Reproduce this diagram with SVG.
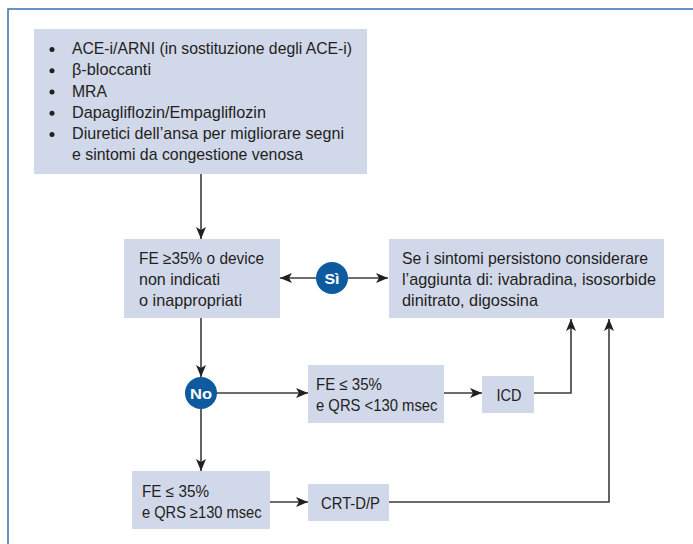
<svg xmlns="http://www.w3.org/2000/svg" width="693" height="544" viewBox="0 0 693 544">
<style>
.box{fill:#d1d8ea}
.t{font-family:"Liberation Sans",Arial,sans-serif;font-size:16.2px;fill:#231f20}
.c{fill:#0d5a9e}
.ct{font-family:"Liberation Sans",Arial,sans-serif;font-size:15px;font-weight:bold;fill:#ffffff;text-anchor:middle}
.ln{fill:none;stroke:#3c3c3c;stroke-width:1.6}
.arr{marker-end:url(#ah)}
</style>
<defs>
<marker id="ah" viewBox="0 0 12 10" refX="12" refY="5" markerWidth="12" markerHeight="10" markerUnits="userSpaceOnUse" orient="auto">
<path d="M0,0 L12,5 L0,10 L3,5 Z" fill="#231f20"/>
</marker>
</defs>
<rect width="693" height="544" fill="#ffffff"/>
<g id="frame">
<path d="M8,544 L8,9 L693,9" fill="none" stroke="#3670b0" stroke-width="1.5"/>
</g>
<g id="connectors">
<path class="ln arr" d="M201,174 L201,239"/>
<path class="ln arr" d="M316,278 L280,278"/>
<path class="ln arr" d="M348,278 L388,278"/>
<path class="ln arr" d="M201,318 L201,377"/>
<path class="ln arr" d="M217,393 L308,393"/>
<path class="ln arr" d="M201,409 L201,471"/>
<path class="ln arr" d="M444,393 L482,393"/>
<path class="ln arr" d="M534,393 L571,393 L571,319"/>
<path class="ln arr" d="M270,502 L308,502"/>
<path class="ln arr" d="M389,502 L609,502 L609,319"/>
</g>
<g id="therapy">
<rect class="box" x="34" y="29" width="333" height="145"/>
<g fill="#231f20">
<circle cx="52" cy="49.5" r="2.5"/>
<circle cx="52" cy="70.8" r="2.5"/>
<circle cx="52" cy="92" r="2.5"/>
<circle cx="52" cy="113.3" r="2.5"/>
<circle cx="52" cy="134.5" r="2.5"/>
</g>
<text class="t" x="72" y="54" textLength="280" lengthAdjust="spacingAndGlyphs">ACE-i/ARNI (in sostituzione degli ACE-i)</text>
<text class="t" x="72" y="75.3" textLength="79" lengthAdjust="spacingAndGlyphs">β-bloccanti</text>
<text class="t" x="72" y="96.6" textLength="35" lengthAdjust="spacingAndGlyphs">MRA</text>
<text class="t" x="72" y="118" textLength="194" lengthAdjust="spacingAndGlyphs">Dapagliflozin/Empagliflozin</text>
<text class="t" x="72" y="139" textLength="272" lengthAdjust="spacingAndGlyphs">Diuretici dell’ansa per migliorare segni</text>
<text class="t" x="72" y="160" textLength="231" lengthAdjust="spacingAndGlyphs">e sintomi da congestione venosa</text>
</g>
<g id="fe-check">
<rect class="box" x="124" y="239" width="156" height="79"/>
<text class="t" x="139" y="264" textLength="125" lengthAdjust="spacingAndGlyphs">FE ≥35% o device</text>
<text class="t" x="139" y="285" textLength="81" lengthAdjust="spacingAndGlyphs">non indicati</text>
<text class="t" x="139" y="306" textLength="103" lengthAdjust="spacingAndGlyphs">o inappropriati</text>
</g>
<g id="si">
<circle class="c" cx="332" cy="278" r="16"/>
<text class="ct" x="332" y="283.5" textLength="15" lengthAdjust="spacingAndGlyphs">Sì</text>
</g>
<g id="consider">
<rect class="box" x="389" y="239" width="275" height="79"/>
<text class="t" x="402" y="264" textLength="246" lengthAdjust="spacingAndGlyphs">Se i sintomi persistono considerare</text>
<text class="t" x="402" y="285" textLength="254" lengthAdjust="spacingAndGlyphs">l’aggiunta di: ivabradina, isosorbide</text>
<text class="t" x="402" y="306" textLength="136" lengthAdjust="spacingAndGlyphs">dinitrato, digossina</text>
</g>
<g id="no">
<circle class="c" cx="201" cy="393" r="16"/>
<text class="ct" x="201" y="398.5" textLength="22" lengthAdjust="spacingAndGlyphs">No</text>
</g>
<g id="qrs-narrow">
<rect class="box" x="308" y="365" width="136" height="58"/>
<text class="t" x="316" y="390" textLength="66" lengthAdjust="spacingAndGlyphs">FE ≤ 35%</text>
<text class="t" x="316" y="411" textLength="121.5" lengthAdjust="spacingAndGlyphs">e QRS &lt;130 msec</text>
</g>
<g id="icd">
<rect class="box" x="482" y="376" width="52" height="37"/>
<text class="t" x="496.5" y="400.5" textLength="25" lengthAdjust="spacingAndGlyphs">ICD</text>
</g>
<g id="qrs-wide">
<rect class="box" x="132" y="471" width="138" height="58"/>
<text class="t" x="142" y="497" textLength="67" lengthAdjust="spacingAndGlyphs">FE ≤ 35%</text>
<text class="t" x="142" y="517.5" textLength="119.5" lengthAdjust="spacingAndGlyphs">e QRS ≥130 msec</text>
</g>
<g id="crt">
<rect class="box" x="308" y="484" width="81" height="37"/>
<text class="t" x="321" y="508.5" textLength="59" lengthAdjust="spacingAndGlyphs">CRT-D/P</text>
</g>
</svg>
